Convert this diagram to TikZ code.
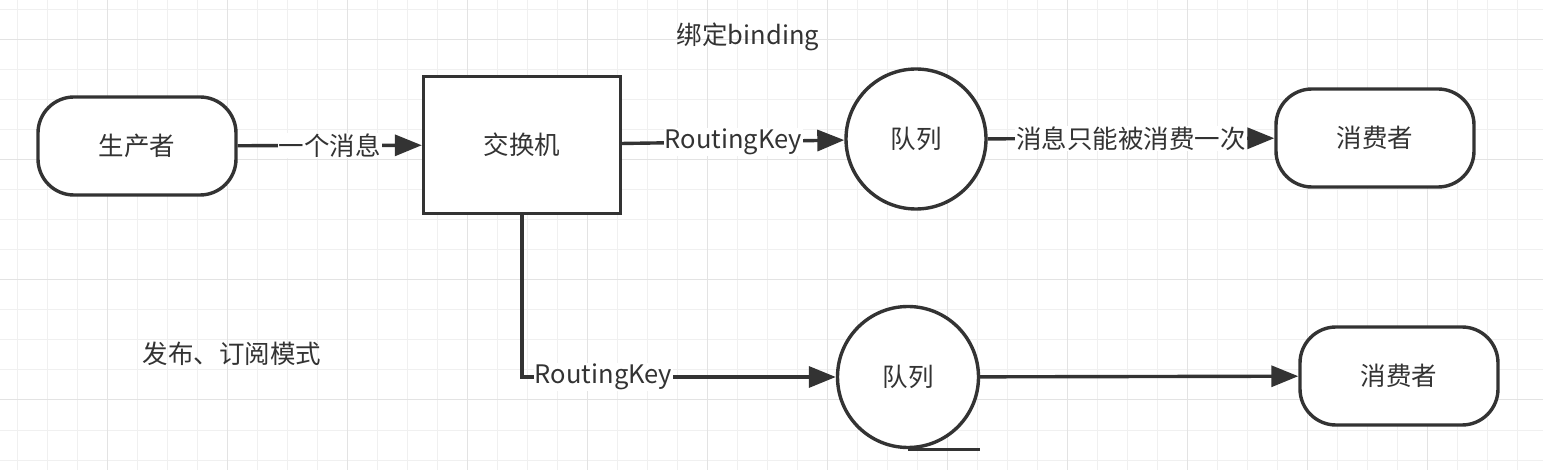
\documentclass[tikz,border=0pt]{standalone}
\usepackage{fontspec}
\setmainfont{Noto Sans CJK SC}
\usepackage{tikz}
\usetikzlibrary{shapes.geometric,arrows.meta,positioning}
\definecolor{ink}{HTML}{333333}
\definecolor{gridminor}{HTML}{F0F0F0}
\definecolor{gridmajor}{HTML}{E3E3E3}

\begin{document}
\begin{tikzpicture}[x=1pt, y=-1pt, line width=3.4pt, text=ink, font=\fontsize{25.5}{30}\selectfont]
   \useasboundingbox[fill=white] (0,0) rectangle (1543,470);
   % background grid
   \foreach \gx in {17,47,...,1547} \draw[gridminor, line width=1pt] (\gx,0) -- (\gx,470);
   \foreach \gy in {10,40,...,470} \draw[gridminor, line width=1pt] (0,\gy) -- (1543,\gy);
   \foreach \gx in {107,227,...,1547} \draw[gridmajor, line width=1pt] (\gx,0) -- (\gx,470);
   \foreach \gy in {40,160,...,470} \draw[gridmajor, line width=1pt] (0,\gy) -- (1543,\gy);

   \begin{scope}[every node/.style={draw=ink, fill=white, inner sep=0pt}]
    \node (prod) [rounded corners=36pt, minimum width=198pt, minimum height=98pt] at (137,146) {生产者};
    \node (exch) [minimum width=197pt, minimum height=137pt] at (522,145) {交换机};
    \node (q1) [circle, minimum size=140pt] at (916,139) {队列};
    \node (c1) [rounded corners=36pt, minimum width=198pt, minimum height=98pt] at (1375,138) {消费者};
    \node (q2) [circle, minimum size=141pt] at (908,377) {队列};%sequential data shape, tail below
    \node (c2) [rounded corners=36pt, minimum width=198pt, minimum height=98pt] at (1399,376) {消费者};
   \end{scope}
   \draw[ink] (q2.south) -- (q2.south -| q2.east);

   \node (bindtxt) at (748,37) {绑定binding};
   \node (modetxt) at (232,354) {发布、订阅模式};

   \begin{scope}[-{Triangle[length=27pt,width=21pt]}, every edge/.style={draw=ink, line width=3.4pt},
                 every node/.style={fill=white, inner sep=1pt}]
    \draw  (prod) edge node{一个消息} (exch);
    \draw  (exch) edge node{RoutingKey} (q1);
    \draw  (q1) edge node{消息只能被消费一次} (c1);
    \draw[draw=ink]  (exch) |- node[pos=0.63]{RoutingKey} (q2);
    \draw  (q2) edge (c2);
   \end{scope}
\end{tikzpicture}
\end{document}
